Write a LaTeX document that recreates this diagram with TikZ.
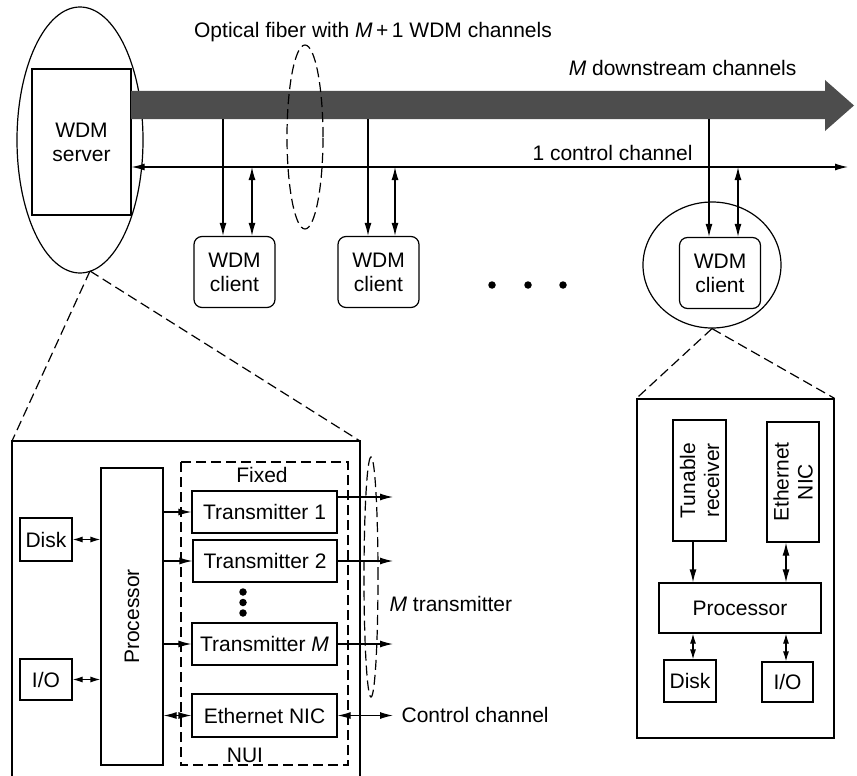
\documentclass[tikz,border=0pt]{standalone}
\usepackage{fontspec}
\setmainfont{Liberation Sans}
\usetikzlibrary{arrows.meta,calc,shapes.geometric}
\definecolor{fibergray}{HTML}{4D4D4D}
\begin{document}
\begin{tikzpicture}[x=1pt,y=-1pt,line width=1.2pt,
  font=\fontsize{21}{24}\selectfont,
  box/.style={draw,inner sep=0pt,align=center},
  client/.style={box,rounded corners=8pt,minimum width=81pt,minimum height=71pt},
  ring/.style={draw,ellipse,inner sep=0pt},
  arr/.style={-{Latex[length=13pt,width=7pt]}},
  biarr/.style={{Latex[length=13pt,width=7pt]}-{Latex[length=13pt,width=7pt]}},
  shortbi/.style={{Latex[length=10pt,width=6pt]}-{Latex[length=10pt,width=6pt]}},
  dashline/.style={dash pattern=on 10pt off 5pt},
  bigdot/.style={fill,circle,inner sep=0pt,minimum size=7.5pt},
  lbl/.style={inner sep=0pt}]
\useasboundingbox (0,0) rectangle (857,776);

% ---------- top: server, fiber and clients ----------
\node[ring,minimum width=126pt,minimum height=266pt] (srvring) at (80,140) {};
\node[box,minimum width=99pt,minimum height=146pt] (srv) at (81.5,142) {WDM\\server};

% M downstream channels (thick arrow)
\fill[fibergray] (131,91) -- (825,91) -- (825,80) -- (854,105.5) -- (825,131)
  -- (825,119) -- (131,119) -- cycle;
\coordinate (fb) at (0,119);
\coordinate (ctl) at (0,167);
\coordinate (ctlend) at (848,167);

% control channel
\draw[biarr] (srv.east |- ctl) -- (ctlend);

\node[ring,dashline,minimum width=36pt,minimum height=184pt] (fibring) at (305,137) {};

\node[lbl] (fiblbl) at (373,32) {Optical fiber with \textit{M}\,+\,1 WDM channels};
\node[lbl,anchor=east] (dslbl) at (797,68) {\textit{M} downstream channels};
\node[lbl] (ctllbl) at (612.5,153) {1 control channel};

\node[client] (c1) at (234.5,272) {WDM\\client};
\node[client] (c2) at (378.5,272) {WDM\\client};
\node[client] (c3) at (720,273) {WDM\\client};
\node[ring,minimum width=138pt,minimum height=126pt] (c3ring) at (712,265) {};

\foreach \c/\a/\b in {c1/-11.5/17.5, c2/-10.5/16.5, c3/-11/18} {
  \coordinate (\c a) at ($(\c.north)+(\a,0)$);
  \coordinate (\c b) at ($(\c.north)+(\b,0)$);
  \draw[arr] (\c a |- fb) -- (\c a);
  \draw[biarr] (\c b |- ctl) -- (\c b);
}

\node[bigdot] (dot1) at (492,285) {};
\node[bigdot] (dot2) at (528,285) {};
\node[bigdot] (dot3) at (563,285) {};

% ---------- bottom left: server detail ----------
\coordinate (srvpt) at (90,271);
\coordinate (lbtl) at (12,441);
\coordinate (lbtr) at (360,441);
\draw (12,776) -- (lbtl) -- (lbtr) -- (360,776);
\draw[dashline] (srvpt) -- (lbtl);
\draw[dashline] (srvpt) -- (lbtr);

\draw[dashline] (181,462) rectangle (348,765);
\node[lbl] (fixed) at (262,475) {Fixed};
\node[lbl] (nui) at (245,755) {NUI};

\node[box,minimum width=62pt,minimum height=297pt] (p1) at (132,616.5) {};
\node[lbl,rotate=90] (p1txt) at (p1) {Processor};

\node[box,minimum width=145pt,minimum height=42pt] (t1) at (264.5,512) {Transmitter 1};
\node[box,minimum width=144pt,minimum height=42pt] (t2) at (265,561) {Transmitter 2};
\node[box,minimum width=145pt,minimum height=42pt] (tm) at (264.5,644) {Transmitter \textit{M}};
\node[box,minimum width=145pt,minimum height=43pt] (en1) at (264.5,715.5) {Ethernet NIC};

\node[bigdot] (vd1) at (243,592) {};
\node[bigdot] (vd2) at (243,602.5) {};
\node[bigdot] (vd3) at (243,613) {};

\node[box,minimum width=52pt,minimum height=43pt] (d1) at (46,539.5) {Disk};
\node[box,minimum width=52pt,minimum height=41pt] (io1) at (46,679.5) {I/O};

\draw[shortbi] (d1.east) -- (d1.east -| p1.west);
\draw[shortbi] (io1.east) -- (io1.east -| p1.west);

\draw[arr] (p1.east |- t1.west) -- (t1.west);
\draw[arr] (p1.east |- t2.west) -- (t2.west);
\draw[arr] (p1.east |- tm.west) -- (tm.west);
\draw[biarr] (p1.east |- en1.west) -- (en1.west);

\coordinate (outx) at (393,0);
\coordinate (o1) at ($(t1.east)+(0,-15)$);
\draw[arr] (o1) -- (o1 -| outx);
\draw[arr] (t2.east) -- (t2.east -| outx);
\draw[arr] (tm.east) -- (tm.east -| outx);
\draw[biarr] (en1.east) -- (en1.east -| outx);

\node[ring,dashline,minimum width=14pt,minimum height=240pt] (txring) at (371,577) {};
\node[lbl,anchor=west] (mtx) at (389,604) {\textit{M} transmitter};
\node[lbl,anchor=west] (cclbl) at (401,715) {Control channel};

% ---------- bottom right: client detail ----------
\node[box,minimum width=197pt,minimum height=339pt] (rbox) at (735.5,568.5) {};
\draw[dashline] (c3ring.south) -- (rbox.north west);
\draw[dashline] (c3ring.south) -- (rbox.north east);

\node[box,minimum width=53pt,minimum height=121pt] (tun) at (699.5,480.5) {};
\node[lbl,rotate=90,align=center] (tuntxt) at (tun) {Tunable\\receiver};
\node[box,minimum width=52pt,minimum height=120pt] (en2) at (793,482) {};
\node[lbl,rotate=90,align=center] (en2txt) at (en2) {Ethernet\\NIC};

\node[box,minimum width=162pt,minimum height=50pt] (p2) at (740,608) {Processor};
\node[box,minimum width=52pt,minimum height=42pt] (d2) at (690,681) {Disk};
\node[box,minimum width=51pt,minimum height=40pt] (io2) at (787.5,682) {I/O};

\coordinate (ra) at (693,0);
\coordinate (rb) at (786,0);
\draw[arr] (ra |- tun.south) -- (ra |- p2.north);
\draw[biarr] (rb |- en2.south) -- (rb |- p2.north);
\draw[shortbi] (ra |- p2.south) -- (ra |- d2.north);
\draw[shortbi] (rb |- p2.south) -- (rb |- io2.north);
\end{tikzpicture}
\end{document}
